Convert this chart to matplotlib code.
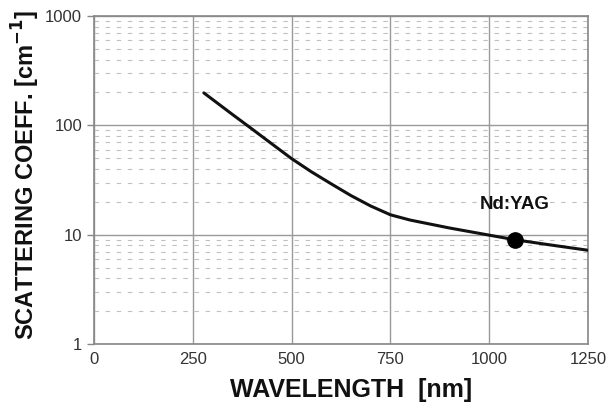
import matplotlib
matplotlib.use("Agg")
import matplotlib.pyplot as plt
from matplotlib.ticker import LogLocator, NullFormatter

wavelength = [278, 350, 400, 450, 500, 550, 600, 650, 700, 750, 800, 900, 1000, 1064, 1150, 1250]
scatter = [198, 126, 92.5, 67.7, 49.6, 37.6, 29.2, 22.8, 18.3, 15.2, 13.6, 11.5, 9.9, 9.0, 8.1, 7.2]
marker_x = [1064]
marker_y = [9.0]
marker_label = "Nd:YAG"
x_ticks = [0, 250, 500, 750, 1000, 1250]
y_ticks = [1, 10, 100, 1000]
y_tick_labels = ["1", "10", "100", "1000"]

plt.rcParams['font.family'] = ['Liberation Sans', 'DejaVu Sans']
fig = plt.figure(figsize=(6.11, 4.05), dpi=100)
ax = fig.add_axes([0.1538, 0.1506, 0.8086, 0.8099])

ax.set_yscale('log')
ax.set_xlim(0, 1250)
ax.set_ylim(1, 1000)

ax.plot(wavelength, scatter, color='#111111', lw=2.2, zorder=3,
        solid_joinstyle='round', solid_capstyle='round')
ax.plot(marker_x, marker_y, 'o', color='black', ms=11, zorder=4)
ax.text(marker_x[0], 18.8, marker_label, ha='center', va='center',
        fontsize=13.5, fontweight='bold', color='#111111')

ax.set_xticks(x_ticks)
ax.set_yticks(y_ticks)
ax.set_yticklabels(y_tick_labels)
ax.yaxis.set_minor_locator(LogLocator(base=10, subs=range(2, 10)))
ax.yaxis.set_minor_formatter(NullFormatter())

ax.grid(True, which='major', color='#999999', lw=1.0, ls='-')
ax.grid(True, which='minor', axis='y', color='#c0c0c0', lw=0.8, ls=(0, (4, 6)))
ax.tick_params(axis='both', which='major', labelsize=12, labelcolor='#333333',
               color='#888888', length=5, width=1)
ax.tick_params(axis='x', which='major', length=0, pad=6)
ax.tick_params(axis='y', which='minor', length=0)
for s in ax.spines.values():
    s.set_color('#888888')
    s.set_linewidth(1.2)

fig.text(351 / 611, 1 - 390 / 405, 'WAVELENGTH  [nm]', ha='center', va='center',
         fontsize=18, fontweight='bold', color='#111111')
fig.text(26 / 611, 1 - 175 / 405, 'SCATTERING COEFF. [cm$^{\\mathbf{-1}}$]',
         rotation=90, ha='center', va='center',
         fontsize=17, fontweight='bold', color='#111111')

fig.savefig('out.png', dpi=100)
